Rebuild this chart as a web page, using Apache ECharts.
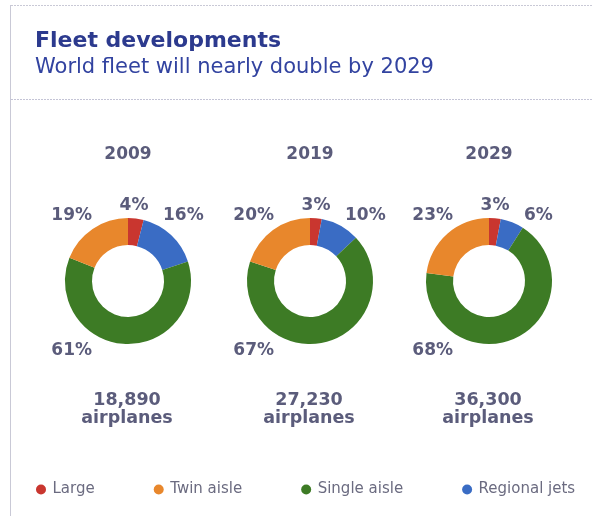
<!DOCTYPE html>
<html>
<head>
<meta charset="utf-8">
<script src="https://cdn.jsdelivr.net/npm/echarts@6/dist/echarts.min.js"></script>
<style>
  html, body { margin: 0; padding: 0; background: #ffffff; }
  #chart { width: 593px; height: 516px; }
</style>
</head>
<body>
<div id="chart"></div>
<script>
// Fleet mix by aircraft category, share of world fleet (%)
const years = ['2009', '2019', '2029'];
const fleetTotals = [18890, 27230, 36300];
const largeShare = [4, 3, 3];
const regionalShare = [16, 10, 6];
const singleAisleShare = [61, 67, 68];
const twinAisleShare = [19, 20, 23];

// Legend order and slice colours
const legendOrder = ['Large', 'Twin aisle', 'Single aisle', 'Regional jets'];
const sliceColors = {
  'Large': '#c9362f',
  'Twin aisle': '#e8872c',
  'Single aisle': '#3d7b25',
  'Regional jets': '#3a6cc4'
};

const FONT = 'DejaVu Sans';
const LABEL_COLOR = '#5b5c7b';
const TITLE_COLOR = '#2c3a8e';

// Donut geometry
const centersX = [128, 310, 489];
const centerY = 281;
const radii = [36, 63];

// Where each category's percentage sits relative to its donut centre
const labelPlacement = {
  'Large':         { dx: 6,   dy: -75, align: 'center' },
  'Regional jets': { dx: 35,  dy: -65, align: 'left' },
  'Single aisle':  { dx: -36, dy: 70,  align: 'right' },
  'Twin aisle':    { dx: -36, dy: -65, align: 'right' }
};

function sliceData(i) {
  // clockwise from 12 o'clock
  return [
    { name: 'Large', value: largeShare[i] },
    { name: 'Regional jets', value: regionalShare[i] },
    { name: 'Single aisle', value: singleAisleShare[i] },
    { name: 'Twin aisle', value: twinAisleShare[i] }
  ].map(d => Object.assign(d, { itemStyle: { color: sliceColors[d.name] } }));
}

const series = years.map((y, i) => {
  const data = sliceData(i);
  return {
    type: 'pie',
    name: y,
    center: [centersX[i], centerY],
    radius: radii,
    startAngle: 90,
    clockwise: true,
    silent: true,
    avoidLabelOverlap: false,
    data: data,
    label: {
      show: true,
      position: 'outside',
      formatter: '{c}%',
      fontFamily: FONT,
      fontWeight: 'bold',
      fontSize: 17,
      color: LABEL_COLOR
    },
    labelLine: { show: false },
    labelLayout: function (params) {
      const p = labelPlacement[data[params.dataIndex].name];
      return {
        x: centersX[i] + p.dx,
        y: centerY + p.dy,
        align: p.align,
        verticalAlign: 'middle'
      };
    }
  };
});

const titles = [
  {
    text: 'Fleet developments',
    left: 35, top: 41, padding: 0,
    textVerticalAlign: 'middle',
    textStyle: { fontFamily: FONT, fontWeight: 'bold', fontSize: 22, color: TITLE_COLOR }
  },
  {
    text: 'World fleet will nearly double by 2029',
    left: 35, top: 68, padding: 0,
    textVerticalAlign: 'middle',
    textStyle: { fontFamily: FONT, fontWeight: 'normal', fontSize: 21, color: '#3243a0' }
  }
];
years.forEach((y, i) => {
  titles.push({
    text: y,
    left: centersX[i], top: 155, padding: 0,
    textAlign: 'center', textVerticalAlign: 'middle',
    textStyle: { fontFamily: FONT, fontWeight: 'bold', fontSize: 17, color: LABEL_COLOR }
  });
  titles.push({
    text: fleetTotals[i].toLocaleString('en-US') + '\nairplanes',
    left: centersX[i] - 1, top: 409, padding: 0,
    textAlign: 'center', textVerticalAlign: 'middle',
    textStyle: { fontFamily: FONT, fontWeight: 'bold', fontSize: 17.5, lineHeight: 18, color: LABEL_COLOR }
  });
});

const chart = echarts.init(document.getElementById('chart'), null, { renderer: 'canvas' });
chart.setOption({
  animation: false,
  backgroundColor: '#ffffff',
  title: titles,
  legend: {
    data: legendOrder,
    left: 36,
    top: 482,
    padding: 0,
    icon: 'circle',
    itemWidth: 13,
    itemHeight: 10,
    itemGap: 59,
    selectedMode: false,
    textStyle: { fontFamily: FONT, fontSize: 15, color: '#6b6b80' }
  },
  graphic: [
    { type: 'line', silent: true, shape: { x1: 11, y1: 5.5, x2: 593, y2: 5.5 },
      style: { stroke: '#c9c9d6', lineWidth: 1, lineDash: [2, 1] } },
    { type: 'line', silent: true, shape: { x1: 10.5, y1: 5, x2: 10.5, y2: 516 },
      style: { stroke: '#c9c9d6', lineWidth: 1 } },
    { type: 'line', silent: true, shape: { x1: 11, y1: 99.5, x2: 593, y2: 99.5 },
      style: { stroke: '#c4c4d6', lineWidth: 1, lineDash: [2, 1] } }
  ],
  series: series
});
</script>
</body>
</html>
